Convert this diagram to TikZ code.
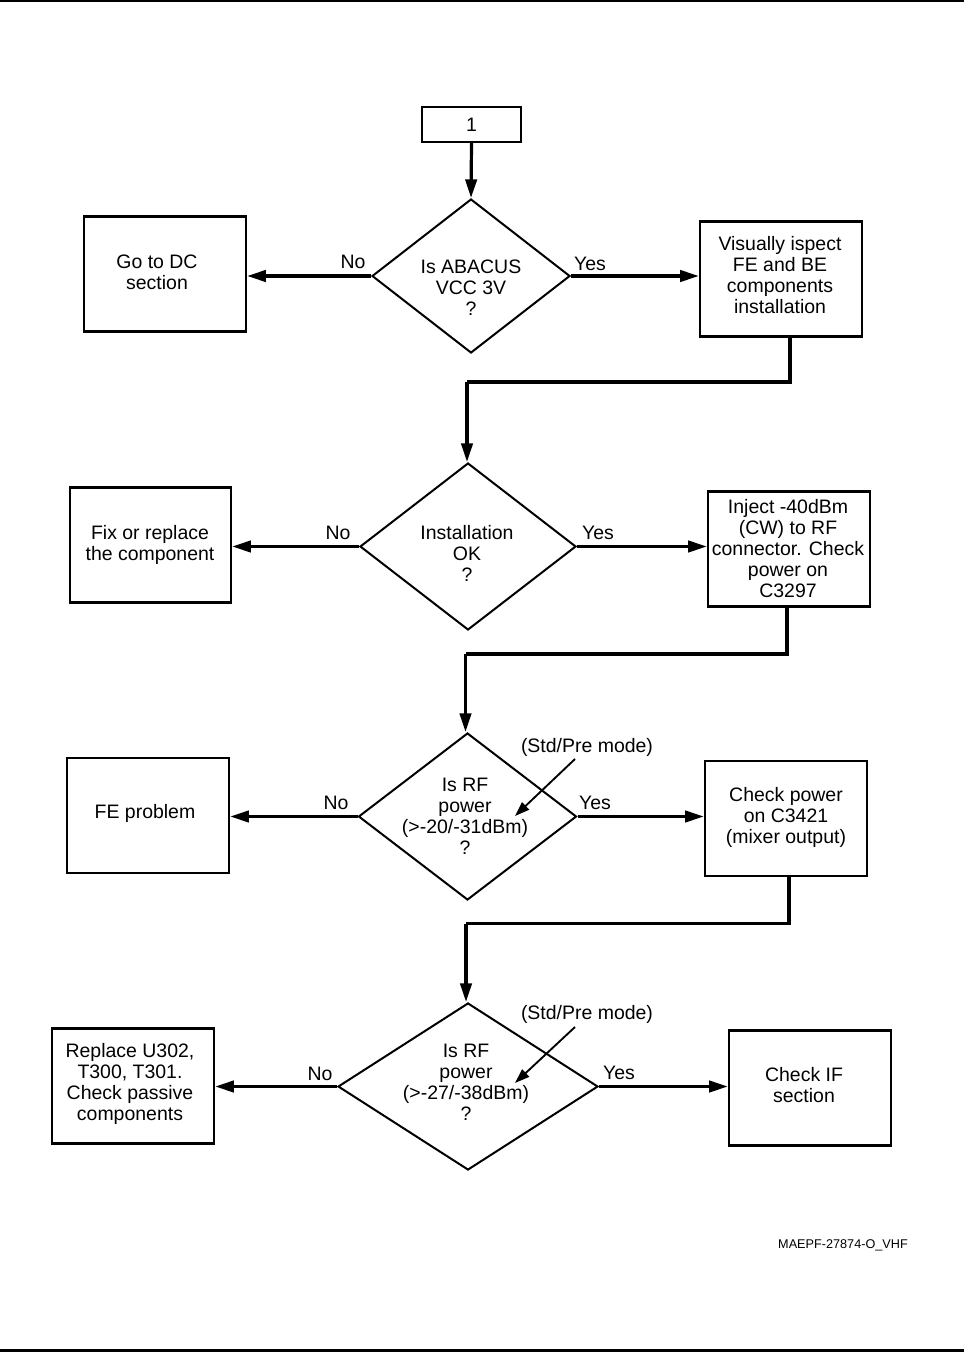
\documentclass[tikz,border=0pt]{standalone}
\usepackage{fontspec}
\setmainfont{Liberation Sans}
\usetikzlibrary{shapes.geometric,arrows.meta}
\begin{document}
\begin{tikzpicture}[x=0.75pt,y=-0.75pt,
  every node/.style={font=\fontsize{14.6pt}{15.75pt}\selectfont},
  box/.style={draw,line width=1.8pt,minimum width=121.5pt,minimum height=86.5pt,inner sep=0pt},
  dia/.style={draw,diamond,line width=1.5pt,inner sep=0pt},
  txt/.style={align=center,inner sep=0pt},
  conn/.style={line width=2.4pt,-{Triangle[length=14pt,width=8.5pt]}},
  wire/.style={line width=2.4pt},
  note/.style={line width=1.4pt,-{Triangle[length=11pt,width=7.5pt]}},
  rule/.style={line width=1.7pt},
]
\useasboundingbox (0,0) rectangle (964,1352);
% page rules
\coordinate (tl) at (0,1);
\coordinate (tr) at (964,1);
\coordinate (bl) at (0,1350.5);
\coordinate (br) at (964,1350.5);
\draw[rule] (tl) -- (tr);
\draw[rule,line width=1.9pt] (bl) -- (br);

% start
\node[draw,line width=1.8pt,minimum width=74.25pt,minimum height=26.25pt,inner sep=0pt] (b1) at (471.5,124.5) {1};

% decision 1
\node[dia,minimum width=148.5pt,minimum height=115.5pt] (d1) at (471,276) {};
\node[txt] (d1t) at (471,288) {Is ABACUS\\VCC 3V\\?};
\node[box] (dc) at (165,274) {};
\node[txt] (dct) at (157,272) {Go to DC\\section};
\node[box] (vis) at (781,279) {};
\node[txt] (vist) at (780,275) {Visually ispect\\FE and BE\\components\\installation};

% decision 2
\node[dia,minimum width=162pt,minimum height=125.25pt] (d2) at (468,546.5) {};
\node[txt] (d2t) at (467,553) {Installation\\OK\\?};
\node[box,minimum width=120.75pt] (fix) at (150.5,545) {};
\node[txt] (fixt) at (150,545) {Fix or replace\\the component};
\node[box] (inj) at (789,549) {};
\node[txt] (injt) at (788,549) {Inject -40dBm\\(CW) to RF\\connector. Check\\power on\\C3297};

% decision 3
\node[dia,minimum width=163.5pt,minimum height=125.25pt] (d3) at (467.5,816.5) {};
\node[txt] (d3t) at (465,816) {Is RF\\power\\(>-20/-31dBm)\\?};
\node[box] (fe) at (148,815.5) {};
\node[txt] (fet) at (145,813) {FE problem};
\node[box] (chk) at (786,818.5) {};
\node[txt] (chkt) at (786,817) {Check power\\on C3421\\(mixer output)};
\node[txt] (n3) at (587,747) {(Std/Pre mode)};
\coordinate (n3a) at (575,759);
\coordinate (n3b) at (515,816);

% decision 4
\node[dia,minimum width=195pt,minimum height=125.25pt] (d4) at (468,1086.5) {};
\node[txt] (d4t) at (466,1082) {Is RF\\power\\(>-27/-38dBm)\\?};
\node[box] (rep) at (133,1086) {};
\node[txt] (rept) at (130,1084) {Replace U302,\\T300, T301.\\Check passive\\components};
\node[box] (cif) at (810,1088) {};
\node[txt] (cift) at (804,1085) {Check IF\\section};
\node[txt] (n4) at (587,1014) {(Std/Pre mode)};
\coordinate (n4a) at (575,1027);
\coordinate (n4b) at (515,1083);

% yes / no labels
\node[txt] (no1) at (353,262) {No};
\node[txt] (yes1) at (590,264) {Yes};
\node[txt] (no2) at (338,533) {No};
\node[txt] (yes2) at (598,533) {Yes};
\node[txt] (no3) at (336,803) {No};
\node[txt] (yes3) at (595,803) {Yes};
\node[txt] (no4) at (320,1074) {No};
\node[txt] (yes4) at (619,1073) {Yes};

% footer id
\node[txt,font=\fontsize{9.5pt}{11pt}\selectfont] (id) at (843,1245) {MAEPF-27874-O\_VHF};

% junction points
\coordinate (j1) at (467,382);
\coordinate (j2) at (465.5,654);
\coordinate (j3) at (466,923.5);

% connectors
\draw[conn] (b1.south) -- (d1.north);
\draw[conn] (d1.west) -- (d1.west -| dc.east);
\draw[conn] (d1.east) -- (d1.east -| vis.west);
\draw[wire] ([xshift=6.75pt]vis.south) |- (j1);
\draw[conn] (j1) -- (j1 |- d2.north);

\draw[conn] (d2.west) -- (d2.west -| fix.east);
\draw[conn] (d2.east) -- (d2.east -| inj.west);
\draw[wire] ([xshift=-1.5pt]inj.south) |- (j2);
\draw[conn] (j2) -- (j2 |- d3.north);

\draw[conn] (d3.west) -- (d3.west -| fe.east);
\draw[conn] (d3.east) -- (d3.east -| chk.west);
\draw[wire] ([xshift=2.25pt]chk.south) |- (j3);
\draw[conn] (j3) -- (j3 |- d4.north);

\draw[conn] (d4.west) -- (d4.west -| rep.east);
\draw[conn] (d4.east) -- (d4.east -| cif.west);

\draw[note] (n3a) -- (n3b);
\draw[note] (n4a) -- (n4b);
\end{tikzpicture}
\end{document}
